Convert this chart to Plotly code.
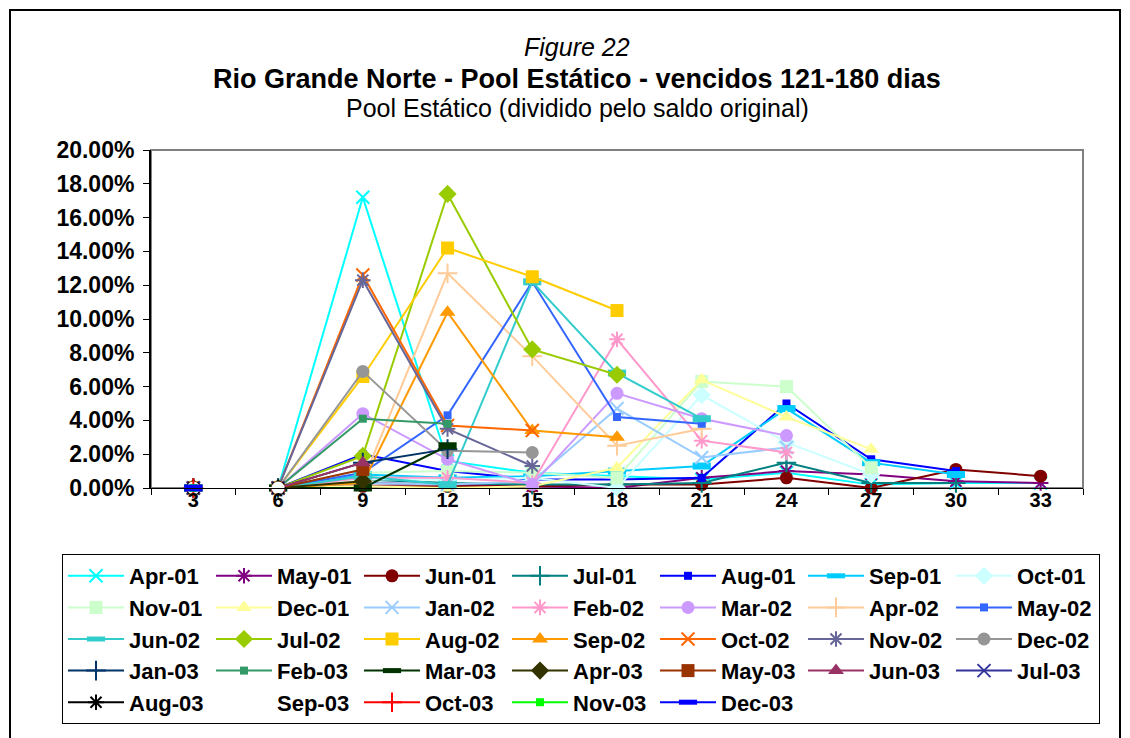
import plotly.graph_objects as go

# months on book (x categories)
months = [3, 6, 9, 12, 15, 18, 21, 24, 27, 30, 33]

# vintage names, in legend order
vintages = ['Apr-01', 'May-01', 'Jun-01', 'Jul-01', 'Aug-01', 'Sep-01', 'Oct-01',
            'Nov-01', 'Dec-01', 'Jan-02', 'Feb-02', 'Mar-02', 'Apr-02', 'May-02',
            'Jun-02', 'Jul-02', 'Aug-02', 'Sep-02', 'Oct-02', 'Nov-02', 'Dec-02',
            'Jan-03', 'Feb-03', 'Mar-03', 'Apr-03', 'May-03', 'Jun-03', 'Jul-03',
            'Aug-03', 'Sep-03', 'Oct-03', 'Nov-03', 'Dec-03']

# % of original balance, 121-180 days overdue
apr_01 = [0, 0, 17.2, 1.6, 0.9, 0.7, 0.5, 0.9, 0.2, 0.3, 0.3]
may_01 = [0, 0, 0.3, 0.2, 0.1, 0.0, 0.6, 1.0, 0.8, 0.4, 0.3]
jun_01 = [0, 0, 0.1, 0.1, 0.1, 0.2, 0.2, 0.6, 0.0, 1.1, 0.7]
jul_01 = [0, 0, 0.5, 0.3, 0.2, 0.2, 0.3, 1.5, 0.3, 0.3]
aug_01 = [0, 0, 2.0, 1.0, 0.5, 0.5, 0.6, 5.0, 1.7, 1.0]
sep_01 = [0, 0, 0.8, 0.6, 0.7, 1.0, 1.3, 4.7, 1.5, 0.8]
oct_01 = [0, 0, 0.5, 0.5, 0.6, 0.0, 5.5, 2.7, 0.8]
nov_01 = [0, 0, 0.9, 1.0, 0.9, 0.6, 6.3, 6.0, 1.2]
dec_01 = [0, 0, 0.1, 0.0, 0.1, 1.2, 6.4, 4.2, 2.3]
jan_02 = [0, 0, 0.3, 0.2, 0.4, 4.7, 1.8, 2.4]
feb_02 = [0, 0, 0.6, 0.6, 0.3, 8.8, 2.8, 2.1]
mar_02 = [0, 0, 4.4, 1.7, 0.2, 5.6, 4.1, 3.1]
apr_02 = [0, 0, 0.4, 12.7, 7.8, 2.5, 3.5]
may_02 = [0, 0, 0.9, 4.3, 12.2, 4.2, 3.8]
jun_02 = [0, 0, 0.7, 0.2, 12.2, 6.8, 4.1]
jul_02 = [0, 0, 1.9, 17.4, 8.2, 6.7]
aug_02 = [0, 0, 6.6, 14.2, 12.5, 10.5]
sep_02 = [0, 0, 0.3, 10.4, 3.4, 3.0]
oct_02 = [0, 0, 12.6, 3.7, 3.4]
nov_02 = [0, 0, 12.3, 3.5, 1.3]
dec_02 = [0, 0, 6.9, 2.2, 2.1]
jan_03 = [0, 0, 1.5, 2.3]
feb_03 = [0, 0, 4.1, 3.8]
mar_03 = [0, 0, 0.0, 2.5]
apr_03 = [0, 0, 0.4]
may_03 = [0, 0, 1.1]
jun_03 = [0, 0, 1.5]
jul_03 = [0, 0]
aug_03 = [0, 0]
sep_03 = [0, 0]
oct_03 = [0]
nov_03 = [0]
dec_03 = [0]

values = [apr_01, may_01, jun_01, jul_01, aug_01, sep_01, oct_01,
          nov_01, dec_01, jan_02, feb_02, mar_02, apr_02, may_02,
          jun_02, jul_02, aug_02, sep_02, oct_02, nov_02, dec_02,
          jan_03, feb_03, mar_03, apr_03, may_03, jun_03, jul_03,
          aug_03, sep_03, oct_03, nov_03, dec_03]

y_ticks = [0, 2, 4, 6, 8, 10, 12, 14, 16, 18, 20]

# Excel default series palette / marker cycle
colors = ['#00FFFF', '#800080', '#800000', '#008080', '#0000FF', '#00CCFF', '#CCFFFF',
          '#CCFFCC', '#FFFF99', '#99CCFF', '#FF99CC', '#CC99FF', '#FFCC99', '#3366FF',
          '#33CCCC', '#99CC00', '#FFCC00', '#FF9900', '#FF6600', '#666699', '#969696',
          '#003366', '#339966', '#003300', '#333300', '#993300', '#993366', '#333399',
          '#000000', '#FFFFFF', '#FF0000', '#00FF00', '#0000FF']
marker_cycle = ['x', 'star', 'circle', 'plus', 'dash', 'wide', 'diamond',
                'square', 'triangle']

def marker_style(kind, color):
    if kind == 'x':
        return dict(symbol='x-thin', size=13, line=dict(color=color, width=2))
    if kind == 'star':
        return dict(symbol='asterisk', size=13, line=dict(color=color, width=2))
    if kind == 'plus':
        return dict(symbol='cross-thin', size=14, line=dict(color=color, width=2))
    if kind == 'circle':
        return dict(symbol='circle', size=13, color=color, line=dict(width=0))
    if kind == 'dash':
        return dict(symbol='square', size=8, color=color, line=dict(width=0))
    if kind == 'wide':
        return dict(symbol='line-ew', size=13, line=dict(color=color, width=7))
    if kind == 'diamond':
        return dict(symbol='diamond', size=14, color=color, line=dict(width=0))
    if kind == 'square':
        return dict(symbol='square', size=13, color=color, line=dict(width=0))
    return dict(symbol='triangle-up', size=14, color=color, line=dict(width=0))

fig = go.Figure()
for i, (name, vals) in enumerate(zip(vintages, values)):
    c = colors[i]
    fig.add_trace(go.Scatter(
        x=[str(m) for m in months[:len(vals)]], y=vals, name=name,
        mode='lines+markers', line=dict(color=c, width=2),
        marker=marker_style(marker_cycle[i % len(marker_cycle)], c),
        cliponaxis=False))

# page has an 8px body margin, so shift everything up/left by that much
OFF = 8
W, H = 1130, 738
L, T = 151 - OFF, 150 - OFF
R = W - (1083 - OFF)
B = H - (488 - OFF)
pw, ph = W - L - R, H - T - B

def px(x):
    return (x - OFF - L) / pw

def py(y):
    return (H - B - (y - OFF)) / ph

font = 'Arial, Liberation Sans, sans-serif'

fig.update_layout(
    width=W, height=H,
    margin=dict(l=L, r=R, t=T, b=B),
    paper_bgcolor='white', plot_bgcolor='white',
    font=dict(family=font, color='black'),
    showlegend=True,
    legend=dict(orientation='h', x=px(62), xanchor='left', y=py(554), yanchor='top',
                bordercolor='black', borderwidth=1, bgcolor='white',
                font=dict(size=22, family=font, weight='bold'),
                itemwidth=56, entrywidth=77, tracegroupgap=0),
    xaxis=dict(type='category', categoryorder='array',
               categoryarray=[str(m) for m in months], range=[-0.5, len(months) - 0.5],
               showline=True, linecolor='black', linewidth=1,
               ticks='outside', tickson='boundaries', ticklen=6, tickcolor='black',
               ticklabelstandoff=-6,
               tickfont=dict(size=20, weight='bold'), showgrid=False, zeroline=False),
    yaxis=dict(range=[0, 20], tickvals=y_ticks,
               ticktext=[f'{v:.2f}%' for v in y_ticks],
               showline=True, linecolor='black', linewidth=2,
               ticks='outside', ticklen=6, tickcolor='black', ticklabelstandoff=4,
               tickfont=dict(size=23, weight='bold'), showgrid=False, zeroline=False),
    shapes=[
        dict(type='rect', xref='paper', yref='paper', x0=0, x1=1, y0=0, y1=1,
             line=dict(color='#808080', width=2), layer='below'),
        dict(type='rect', xref='paper', yref='paper', x0=px(10), x1=px(1120),
             y0=py(760), y1=py(10), line=dict(color='black', width=2)),
    ],
    annotations=[
        dict(text='<i>Figure 22</i>', x=px(577), y=py(47), xref='paper', yref='paper',
             yanchor='middle', showarrow=False, font=dict(size=25)),
        dict(text='<b>Rio Grande Norte - Pool Estático - vencidos 121-180 dias</b>',
             x=px(577), y=py(79), xref='paper', yref='paper', yanchor='middle',
             showarrow=False, font=dict(size=27)),
        dict(text='Pool Estático (dividido pelo saldo original)', x=px(577), y=py(108),
             xref='paper', yref='paper', yanchor='middle', showarrow=False,
             font=dict(size=25)),
    ],
)

fig.write_html('out.html')
